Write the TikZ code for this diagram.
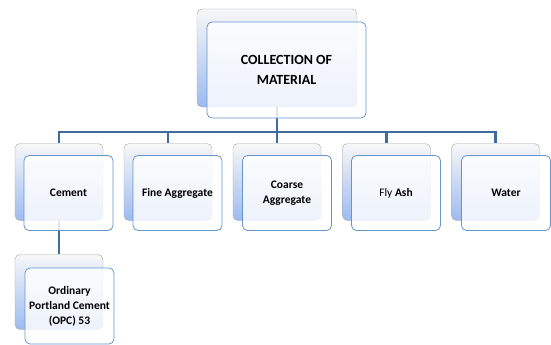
\documentclass[tikz,border=0pt]{standalone}
\usepackage{fontspec}
\setmainfont{Carlito}
\usetikzlibrary{positioning}

\definecolor{linkblue}{HTML}{3F6C9C}
\definecolor{frontblue}{HTML}{6695D0}
\definecolor{shadeblue}{HTML}{9DBBF0}

\begin{document}
\begin{tikzpicture}[x=1pt, y=-1pt,
  back/.style={draw=gray!70, rounded corners=5pt, top color=gray!6, bottom color=shadeblue, minimum width=88pt, minimum height=77pt},
  front/.style={draw=frontblue, rounded corners=5pt, fill=white, fill opacity=0.82, text opacity=1, line width=0.8pt, minimum width=89pt, minimum height=75pt, align=center, font=\bfseries\fontsize{11.5}{15}\selectfont},
  link/.style={draw=linkblue, line width=2.6pt}]
  \useasboundingbox (0,0) rectangle (551,345);

  % back boxes
  \node[back, minimum width=160pt, minimum height=98pt] (topb) at (277,58) {};
  \node[back] (cemb) at (59,182) {};
  \node[back] (fineb) at (168,182) {};
  \node[back] (coarseb) at (277,182) {};
  \node[back] (flyb) at (386.5,182) {};
  \node[back] (waterb) at (495.5,182) {};
  \node[back, minimum height=75pt] (opcb) at (59,292) {};

  % connectors
  \coordinate (bus) at (0,132);
  \draw[link] (topb.south) -- (topb.south |- bus) -| (cemb.north);
  \draw[link] (topb.south |- bus) -| (fineb.north);
  \draw[link] (topb.south |- bus) -- (coarseb.north);
  \draw[link] (topb.south |- bus) -| (flyb.north);
  \draw[link] (topb.south |- bus) -| (waterb.north);
  \draw[link] (cemb.south) -- (opcb.north);

  % front boxes
  \node[front, minimum width=159pt, minimum height=96pt, font=\bfseries\fontsize{14}{20}\selectfont] (top) at (286.5,70) {COLLECTION OF\\MATERIAL};
  \node[front] (cem) at (68.5,193) {Cement};
  \node[front] (fine) at (177.5,193) {Fine Aggregate};
  \node[front] (coarse) at (287,193) {Coarse\\Aggregate};
  \node[front] (fly) at (396,193) {\mdseries Fly \bfseries Ash};
  \node[front] (water) at (506,193) {Water};
  \node[front, minimum height=76pt] (opc) at (69.5,306) {Ordinary\\Portland Cement\\(OPC) 53};
\end{tikzpicture}
\end{document}
